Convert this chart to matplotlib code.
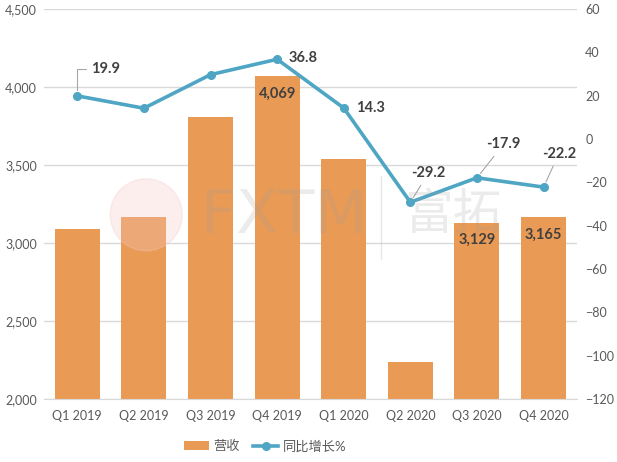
import matplotlib.pyplot as plt
from matplotlib.patches import Ellipse
from matplotlib.lines import Line2D
from matplotlib.ticker import FuncFormatter

plt.rcParams['font.family'] = ['Lato', 'Noto Sans CJK SC', 'DejaVu Sans']

quarters = ['Q1 2019', 'Q2 2019', 'Q3 2019', 'Q4 2019', 'Q1 2020', 'Q2 2020', 'Q3 2020', 'Q4 2020']
revenue = [3090, 3165, 3810, 4069, 3538, 2235, 3129, 3165]
growth = [19.9, 14.2, 29.7, 36.8, 14.3, -29.2, -17.9, -22.2]

# which points get a label
bar_labels = {3: '4,069', 6: '3,129', 7: '3,165'}

bar_color = '#E99A55'
line_color = '#4EA6C4'
text_gray = '#595959'

fig = plt.figure(figsize=(6.17, 4.62), dpi=100)
ax = fig.add_axes([0.0713, 0.1364, 0.8637, 0.8441])
ax2 = ax.twinx()

x = range(len(quarters))
bars = ax.bar(x, revenue, width=0.675, color=bar_color, zorder=2, label='营收')
ax.set_ylim(2000, 4500)
ax.set_xlim(-0.5, len(quarters) - 0.5)
ax.set_yticks(range(2000, 4501, 500))
ax.yaxis.set_major_formatter(FuncFormatter(lambda v, p: f'{int(v):,}'))
ax.grid(axis='y', color='#D9D9D9', lw=1, zorder=0)
ax.set_axisbelow(True)
ax.set_xticks(list(x))
ax.set_xticklabels(quarters)

line, = ax2.plot(x, growth, color=line_color, lw=2.6, marker='o', ms=5.5, zorder=3, label='同比增长%')
ax2.set_ylim(-120, 60)
ax2.set_yticks(range(-120, 61, 20))

for a in (ax, ax2):
    for s in a.spines.values():
        s.set_visible(False)
    a.tick_params(length=0, colors=text_gray, labelsize=9)
ax.spines['bottom'].set_visible(True)
ax.spines['bottom'].set_color('#D9D9D9')
ax.tick_params(axis='x', pad=8)
ax.tick_params(axis='y', pad=5)
ax2.tick_params(axis='y', pad=6)

# bar labels
for i, txt in bar_labels.items():
    ax.annotate(txt, (i, revenue[i]), xytext=(0, -12.5), textcoords='offset points',
                ha='center', va='center', fontsize=10.5, fontweight='bold', color='#404040', zorder=5)

# growth labels: (offset x, offset y, leader style)
offsets = [(20, 19, 'elbow'), None, None, (19, 1, None), (19, 0, None),
           (13, 21, 'straight'), (19, 24, 'straight'), (11, 24, 'straight')]
for i, off in enumerate(offsets):
    if off is None:
        continue
    dx, dy, leader = off
    lbl = f'{growth[i]:.1f}'
    kw = dict(xytext=(dx, dy), textcoords='offset points', ha='center', va='center',
              fontsize=10.5, fontweight='bold', color='#404040', zorder=5)
    if leader == 'elbow':
        kw['arrowprops'] = dict(arrowstyle='-', color='#A6A6A6', lw=0.8, shrinkA=1, shrinkB=4,
                                relpos=(0, 0.5), connectionstyle='angle,angleA=0,angleB=90,rad=0')
    elif leader == 'straight':
        kw['arrowprops'] = dict(arrowstyle='-', color='#A6A6A6', lw=0.8, shrinkA=2, shrinkB=4)
    ax2.annotate(lbl, (i, growth[i]), **kw)

# watermark
fig.text(0.46, 0.532, 'FXTM', fontsize=44, color='#9E9E9E', alpha=0.2, ha='center', va='center',
         family='DejaVu Sans', zorder=10)
fig.text(0.733, 0.535, '富拓', fontsize=35, color='#9E9E9E', alpha=0.2, ha='center', va='center',
         family='Noto Sans CJK SC', zorder=10)
fig.add_artist(Line2D([0.618, 0.618], [0.44, 0.62], transform=fig.transFigure, color='#BDBDBD',
                      alpha=0.35, lw=1, zorder=10))
fig.add_artist(Ellipse((0.237, 0.535), 72 / 617, 72 / 462, transform=fig.transFigure,
                       color='#F4C9C4', alpha=0.3, zorder=10))

fig.legend(handles=[bars, line], loc='lower center', bbox_to_anchor=(0.43, -0.005), ncol=2,
           frameon=False, fontsize=9.5, labelcolor=text_gray, handlelength=1.9, handletextpad=0.35,
           columnspacing=1.0)

plt.savefig('out.png', dpi=100)
